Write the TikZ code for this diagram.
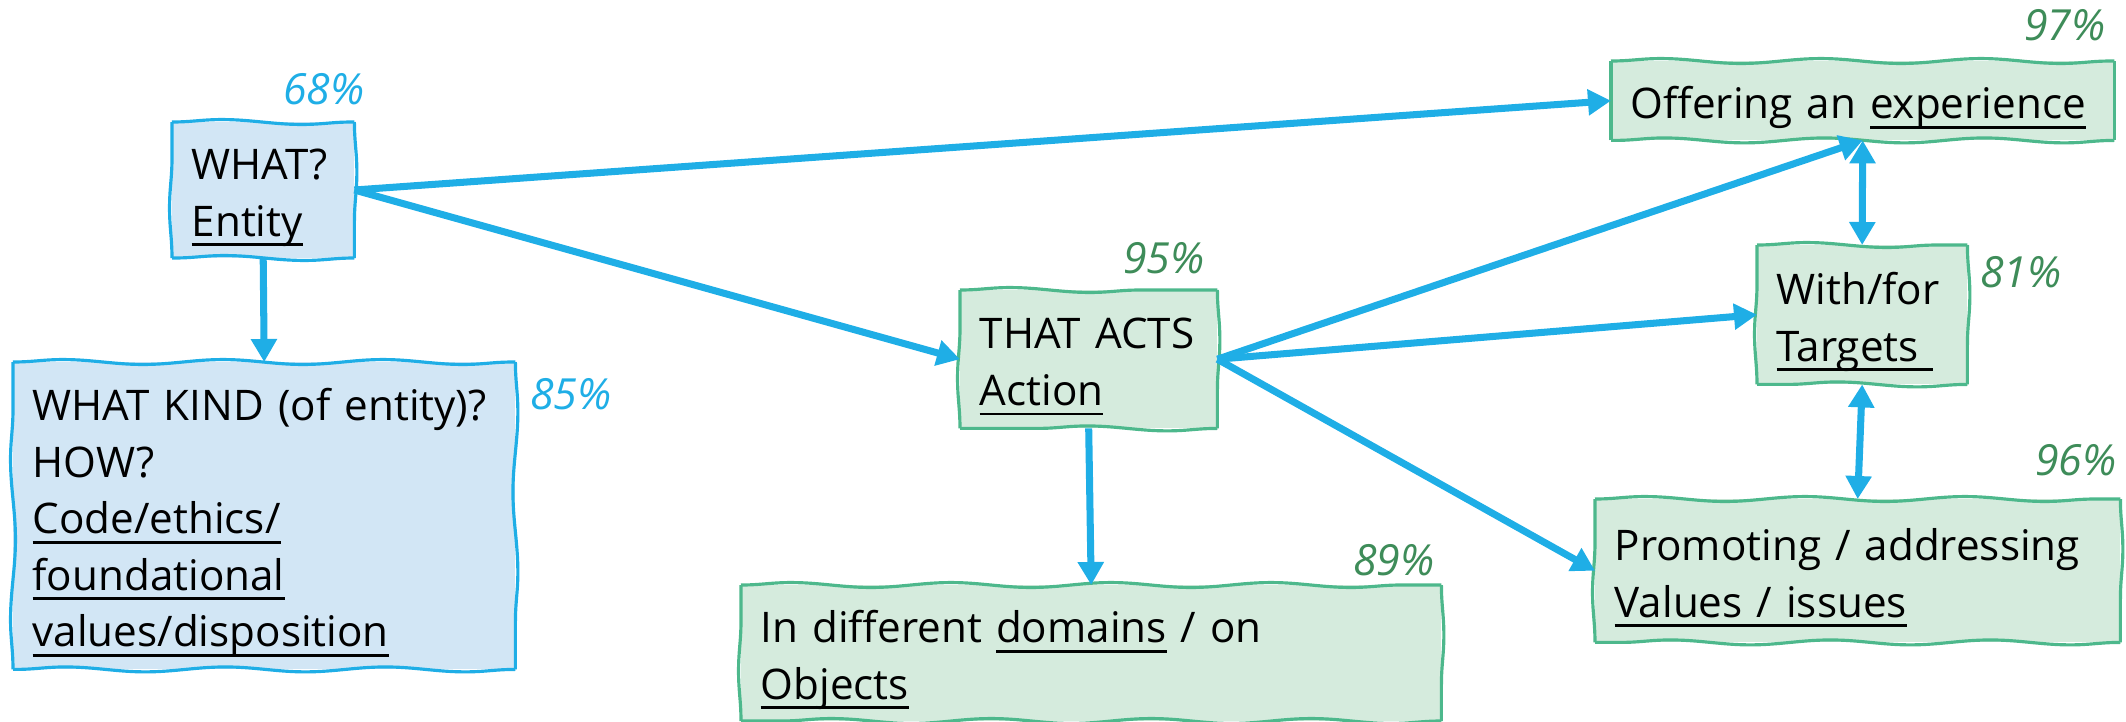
\documentclass[tikz,border=0pt]{standalone}
\usepackage{fontspec}
\setmainfont{Open Sans}
\usetikzlibrary{arrows.meta,decorations.pathmorphing,backgrounds}

\definecolor{arrowblue}{HTML}{1FAEE6}
\definecolor{boxblue}{HTML}{D2E6F5}
\definecolor{boxgreen}{HTML}{D5EBDD}
\definecolor{greenline}{HTML}{4DB88C}
\definecolor{pctgreen}{HTML}{3E8C59}

\newsavebox{\ulbox}
\newcommand{\boxtext}{\fontsize{12}{16.1}\selectfont}
\newcommand{\pcttext}{\fontsize{12.2}{13}\selectfont\itshape}
\newcommand{\ulword}[1]{\leavevmode\sbox{\ulbox}{#1}\rlap{\rule[-2.8pt]{\wd\ulbox}{0.8pt}}\usebox{\ulbox}}
\newcommand{\topstrut}{\rule{0pt}{0.57cm}}
\newcommand{\botstrut}{\rule[-0.21cm]{0pt}{0.21cm}}

\begin{document}
\begin{tikzpicture}[
    boxnode/.style={inner xsep=0.19cm, inner ysep=0pt, align=left, anchor=north west, font=\boxtext,
        execute at begin node=\topstrut, execute at end node=\botstrut},
    sketch/.style={line width=0.9pt, decorate,
        decoration={snake, segment length=1.6cm, amplitude=0.7pt}},
    pct/.style={font=\pcttext, text=pctgreen},
    flow/.style={draw=arrowblue, line width=2pt, -{Triangle[length=0.23cm,width=0.25cm]}},
    flowboth/.style={flow, {Triangle[length=0.23cm,width=0.25cm]}-{Triangle[length=0.23cm,width=0.25cm]}}
    ]
        \useasboundingbox (0,0) rectangle (21.26,-7.21);

        %BLUE BOXES
        \node[boxnode, text width=1.43cm, minimum height=1.33cm] (what) at (1.72,-1.22) {WHAT?\\\ulword{Entity}};
        \node[boxnode, text width=4.63cm, minimum height=3.06cm] (kind) at (0.13,-3.62) {WHAT~KIND~(of~entity)?\\HOW?\\\ulword{Code/ethics/}\\\ulword{foundational}\\\ulword{values/disposition}};

        %GREEN BOXES
        \node[boxnode, text width=2.18cm, minimum height=1.37cm] (acts) at (9.60,-2.90) {THAT~ACTS\\\ulword{Action}};
        \node[boxnode, text width=6.61cm, minimum height=1.33cm] (dom) at (7.41,-5.85) {In different \ulword{domains} / on\\\ulword{Objects}};
        \node[boxnode, text width=4.64cm, minimum height=0.78cm] (offer) at (16.11,-0.61) {Offering an \ulword{experience}};
        \node[boxnode, text width=1.71cm, minimum height=1.38cm] (with) at (17.57,-2.45) {With/for\\\ulword{Targets\ }};
        \node[boxnode, text width=4.86cm, minimum height=1.42cm] (prom) at (15.95,-4.99) {Promoting / addressing\\\ulword{Values / issues}};

        %WAVY BORDERS
        \begin{scope}[on background layer]
            \foreach \b/\line/\inside in {what/arrowblue/boxblue, kind/arrowblue/boxblue, acts/greenline/boxgreen, dom/greenline/boxgreen, offer/greenline/boxgreen, with/greenline/boxgreen, prom/greenline/boxgreen} {
                \fill[\inside] (\b.north west) rectangle (\b.south east);
                \foreach \p/\q in {north west/north east, north east/south east, south east/south west, south west/north west}
                    \draw[sketch, \line] (\b.\p) -- (\b.\q);
            }
        \end{scope}

        %PERCENTAGES
        \node[pct, text=arrowblue] (p68) at (3.24,-0.89) {68\%};
        \node[pct, text=arrowblue] (p85) at (5.71,-3.94) {85\%};
        \node[pct] (p95) at (11.64,-2.58) {95\%};
        \node[pct] (p89) at (13.94,-5.60) {89\%};
        \node[pct] (p97) at (20.65,-0.25) {97\%};
        \node[pct] (p81) at (20.21,-2.72) {81\%};
        \node[pct] (p96) at (20.76,-4.60) {96\%};

        %ARROWS
        \draw[flow] (what.east) -- (offer.west);
        \draw[flow] (what.east) -- (acts.west);
        \draw[flow] (what.south) -- (kind.north);
        \draw[flow] (acts.east) -- (offer.south);
        \draw[flow] (acts.east) -- (with.west);
        \draw[flow] (acts.east) -- (prom.west);
        \draw[flow] (acts.south) -- (dom.north);
        \draw[flowboth] (offer.south) -- (with.north);
        \draw[flowboth] (with.south) -- (prom.north);
\end{tikzpicture}
\end{document}
